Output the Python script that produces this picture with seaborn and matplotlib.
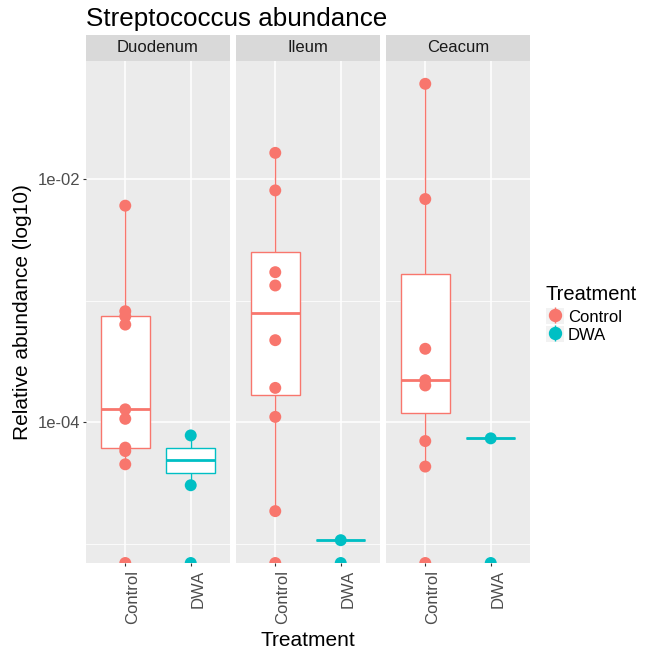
import numpy as np
import pandas as pd
import matplotlib
matplotlib.use("Agg")
import matplotlib.pyplot as plt
import seaborn as sns
from matplotlib.lines import Line2D
from matplotlib.patches import Rectangle
from matplotlib.ticker import FixedLocator, FuncFormatter, NullFormatter

plt.rcParams["font.family"] = ["Liberation Sans", "DejaVu Sans"]

# ---------------- data ----------------
sites = ["Duodenum", "Ileum", "Ceacum"]
treatments = ["Control", "DWA"]
colors = ["#F8766D", "#00BFC4"]

duodenum_control = [6.01e-3, 8.17e-4, 7.43e-4, 6.35e-4, 1.28e-4, 1.07e-4, 6.21e-5, 5.82e-5, 4.53e-5, 0.0]
duodenum_dwa = [7.82e-5, 3.05e-5, 0.0]
ileum_control = [1.63e-2, 8.02e-3, 1.71e-3, 1.33e-3, 4.73e-4, 1.92e-4, 1.11e-4, 1.87e-5, 0.0]
ileum_dwa = [1.08e-5, 0.0]
ceacum_control = [6.01e-2, 6.81e-3, 4.02e-4, 2.22e-4, 2.01e-4, 7.03e-5, 4.34e-5, 0.0]
ceacum_dwa = [7.40e-5, 0.0]

groups = {
    ("Duodenum", "Control"): duodenum_control,
    ("Duodenum", "DWA"): duodenum_dwa,
    ("Ileum", "Control"): ileum_control,
    ("Ileum", "DWA"): ileum_dwa,
    ("Ceacum", "Control"): ceacum_control,
    ("Ceacum", "DWA"): ceacum_dwa,
}
rows = []
for (s, t), vals in groups.items():
    for v in vals:
        rows.append({"Site": s, "Treatment": t, "value": v})
df = pd.DataFrame(rows)

pos_vals = df.loc[df.value > 0, "value"]
lmin, lmax = np.log10(pos_vals.min()), np.log10(pos_vals.max())
pad = 0.05 * (lmax - lmin)
ybot, ytop = 10 ** (lmin - pad), 10 ** (lmax + pad)
df["plot_value"] = df["value"].where(df["value"] > 0, ybot)

pal = dict(zip(treatments, colors))

# ---------------- figure ----------------
W, H = 647, 651
fig = plt.figure(figsize=(W / 100, H / 100), dpi=100)

def fx(px):
    return px / W

def fy(py):
    return 1 - py / H

panel_left = [86, 236, 386]
panel_w = 144
panel_top, panel_bot = 61, 563
strip_top = 35

fmt = FuncFormatter(lambda v, p: f"{v:.0e}")

def idx_of(x):
    return int(np.clip(np.round(np.nanmean(x)), 0, len(colors) - 1))

for i, site in enumerate(sites):
    l = panel_left[i]
    ax = fig.add_axes([fx(l), fy(panel_bot), fx(panel_w), (panel_bot - panel_top) / H])
    sub = df[df.Site == site]
    pos = sub[sub.value > 0]
    sns.boxplot(data=pos, x="Treatment", y="value", hue="Treatment",
                order=treatments, hue_order=treatments, palette=pal,
                fill=True, width=0.75, showcaps=False, showfliers=False,
                linewidth=1.0, medianprops=dict(linewidth=2.0),
                log_scale=True, legend=False, ax=ax)
    for p in ax.patches:
        verts = p.get_path().vertices
        c = colors[idx_of(verts[:, 0])]
        p.set_facecolor("white")
        p.set_edgecolor(c)
        p.set_linewidth(1.0)
        p.set_zorder(2)
    for ln in ax.lines:
        ln.set_color(colors[idx_of(ln.get_xdata())])
        ln.set_zorder(2.5)
    sns.stripplot(data=sub, x="Treatment", y="plot_value", hue="Treatment",
                  order=treatments, hue_order=treatments, palette=pal,
                  jitter=False, size=8.6, linewidth=0, legend=False,
                  ax=ax, zorder=3)
    for c in ax.collections:
        c.set_clip_path(ax.patch)
        c.set_clip_on(True)

    ax.set_yscale("log")
    ax.set_ylim(ybot, ytop)
    ax.set_xlim(-0.6, 1.6)
    ax.set_facecolor("#EBEBEB")
    for sp in ax.spines.values():
        sp.set_visible(False)
    ax.yaxis.set_major_locator(FixedLocator([1e-4, 1e-2]))
    ax.yaxis.set_minor_locator(FixedLocator([1e-5, 1e-3, 1e-1]))
    ax.yaxis.set_major_formatter(fmt)
    ax.yaxis.set_minor_formatter(NullFormatter())
    ax.set_axisbelow(True)
    ax.grid(which="major", color="white", linewidth=1.1)
    ax.grid(which="minor", axis="y", color="white", linewidth=0.55)
    ax.set_xlabel("")
    ax.set_ylabel("")
    ax.tick_params(which="minor", length=0)
    ax.tick_params(axis="both", which="major", length=2.5, width=0.8,
                   color="#333333", labelcolor="#4D4D4D", labelsize=12, pad=1.5)
    ax.tick_params(axis="x", pad=2.5)
    if i > 0:
        ax.tick_params(axis="y", which="both", left=False, labelleft=False)
    plt.setp(ax.get_xticklabels(), rotation=90, ha="left", va="top")

    sax = fig.add_axes([fx(l), fy(panel_top), fx(panel_w), (panel_top - strip_top) / H])
    sax.set_facecolor("#D9D9D9")
    sax.set_xticks([])
    sax.set_yticks([])
    for sp in sax.spines.values():
        sp.set_visible(False)
    sax.text(0.5, 0.5, site, ha="center", va="center", fontsize=12,
             color="#1A1A1A", transform=sax.transAxes)

# titles
fig.text(fx(86), fy(26), "Streptococcus abundance", fontsize=18.7,
         ha="left", va="baseline", color="black")
fig.text(fx(308), fy(646), "Treatment", fontsize=15, ha="center",
         va="baseline", color="black")
fig.text(fx(23), fy(312), "Relative abundance (log10)", fontsize=15,
         rotation=90, ha="center", va="center", color="black")

# legend
handles = []
for t, c in zip(treatments, colors):
    bg = Rectangle((0, 0), 1, 1, facecolor="#F2F2F2", edgecolor="none")
    vl = Line2D([0], [0], marker="|", color=c, markersize=12, linestyle="none",
                markeredgewidth=1.0)
    mk = Line2D([0], [0], marker="o", color=c, markersize=8.6, linestyle="none")
    handles.append((bg, vl, mk))
leg = fig.legend(handles, treatments, loc="upper left",
                 bbox_to_anchor=(fx(546), fy(285)), frameon=False,
                 fontsize=12, title="Treatment", title_fontsize=14.5,
                 handlelength=1.05, handleheight=1.05, handletextpad=0.25,
                 labelspacing=0.1, borderpad=0, borderaxespad=0,
                 alignment="left")
leg._legend_box.sep = 3

fig.savefig("out.png", dpi=100)
